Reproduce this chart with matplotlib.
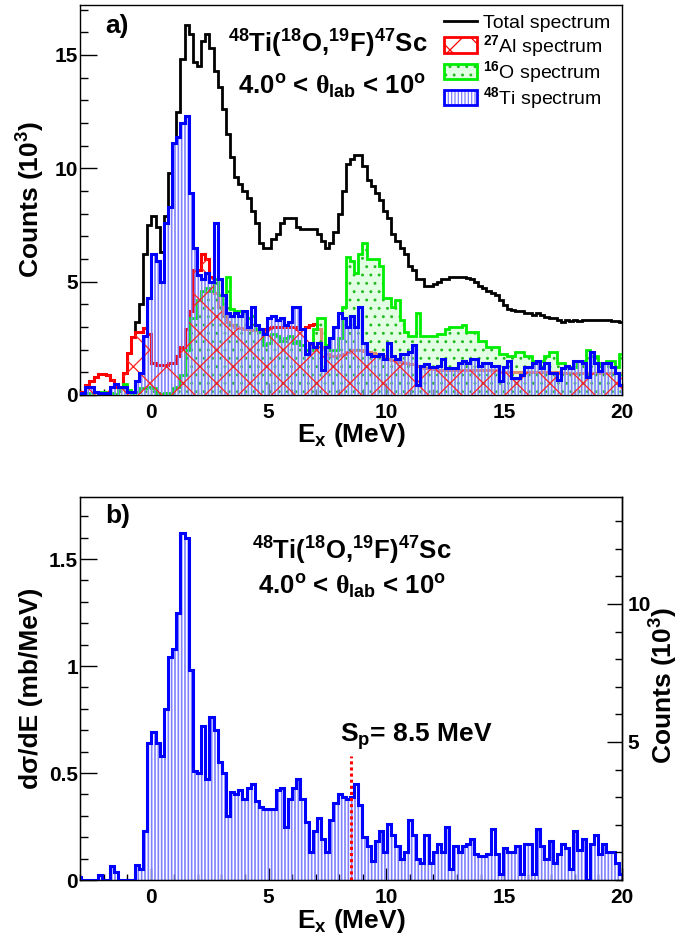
import numpy as np
import matplotlib
matplotlib.use("Agg")
import matplotlib.pyplot as plt
from matplotlib.patches import Patch
from matplotlib.lines import Line2D
from matplotlib.legend_handler import HandlerTuple
from matplotlib.ticker import MultipleLocator, FixedLocator, FuncFormatter

plt.rcParams['font.family'] = ['Liberation Sans', 'DejaVu Sans']
plt.rcParams['font.weight'] = 'bold'
plt.rcParams['mathtext.fontset'] = 'custom'
plt.rcParams['mathtext.rm'] = 'Liberation Serif'
plt.rcParams['mathtext.bf'] = 'Liberation Sans:bold'
plt.rcParams['mathtext.sf'] = 'Liberation Sans'
plt.rcParams['mathtext.it'] = 'Liberation Sans:italic'
plt.rcParams['mathtext.default'] = 'bf'
plt.rcParams['hatch.linewidth'] = 0.9

# binning of the spectra (MeV)
bin_lo = -3.1255
bin_width = 0.1755
n_bins = 132
edges = bin_lo + bin_width * np.arange(n_bins + 1)

# a) counts (10^3) per bin
total_counts = [0.15,
    0.15, 0.44, 0.6, 0.8, 0.92, 0.92, 0.9, 0.66, 0.37, 0.37,
    0.95, 1.84, 2.57, 3.2, 4.0, 6.2, 7.5, 7.9, 7.4, 6.3,
    7.9, 9.8, 11.1, 12.5, 14.8, 16.3, 15.9, 14.7, 14.5, 15.6,
    15.9, 15.3, 14.3, 13.6, 12.6, 11.5, 10.5, 9.6, 9.3, 9.0,
    8.7, 8.1, 7.6, 6.7, 6.5, 6.5, 6.9, 7.1, 7.6, 7.8,
    7.8, 7.8, 7.4, 7.3, 7.3, 7.3, 7.3, 7.1, 6.8, 6.5,
    6.7, 7.2, 8.0, 9.0, 10.2, 10.4, 10.6, 10.6, 10.1, 9.5,
    9.2, 8.9, 8.6, 8.1, 7.8, 7.1, 6.8, 6.5, 6.2, 5.7,
    5.5, 5.1, 5.1, 4.8, 4.8, 4.9, 5.0, 5.1, 5.1, 5.2,
    5.2, 5.2, 5.2, 5.15, 5.1, 5.0, 4.8, 4.7, 4.6, 4.5,
    4.4, 4.2, 3.95, 3.8, 3.75, 3.7, 3.7, 3.6, 3.6, 3.55,
    3.6, 3.55, 3.45, 3.4, 3.4, 3.3, 3.2, 3.3, 3.25, 3.3,
    3.25, 3.3, 3.3, 3.3, 3.3, 3.3, 3.3, 3.3, 3.28, 3.25,
    3.2]
al_counts = [0.15,
    0.15, 0.44, 0.6, 0.8, 0.92, 0.92, 0.9, 0.66, 0.37, 0.37,
    0.95, 1.84, 2.57, 2.8, 2.8, 2.94, 2.7, 1.4, 1.32, 1.32,
    1.32, 1.4, 1.4, 1.7, 2.1, 2.9, 3.7, 5.5, 5.5, 6.2,
    6.0, 5.2, 4.5, 3.9, 3.5, 3.2, 3.1, 3.0, 2.95, 2.9,
    2.9, 2.85, 2.85, 2.9, 2.9, 2.95, 3.0, 3.0, 3.0, 3.0,
    3.0, 3.0, 2.9, 2.9, 3.0, 3.1, 3.15, 2.9, 2.1, 1.8,
    1.7, 1.7, 1.75, 1.8, 1.9, 2.0, 2.0, 2.0, 1.95, 1.9,
    1.85, 1.8, 1.75, 1.7, 1.6, 1.55, 1.5, 1.45, 1.4, 1.35,
    1.35, 1.3, 1.25, 1.2, 1.2, 1.15, 1.1, 1.1, 1.1, 1.1,
    1.1, 1.1, 1.1, 1.1, 1.1, 1.1, 1.1, 1.1, 1.1, 1.1,
    1.1, 1.0, 1.0, 1.0, 1.0, 1.0, 1.0, 1.0, 1.0, 1.0,
    1.0, 1.0, 1.0, 1.0, 1.0, 1.0, 0.95, 0.95, 0.95, 0.95,
    0.95, 0.95, 0.95, 0.95, 0.95, 0.95, 0.95, 0.95, 0.95, 0.95,
    0.95]
o_counts = [0.05,
    0.05, 0.1, 0.05, 0.15, 0.15, 0.15, 0.1, 0.1, 0.05, 0.3,
    0.5, 0.2, 0.1, 0.15, 0.3, 0.3, 0.35, 0.3, 0.1, 0.05,
    0.1, 0.1, 0.3, 0.35, 0.9, 2.0, 3.4, 3.4, 4.2, 4.6,
    4.7, 4.6, 5.1, 4.4, 4.0, 5.2, 3.8, 3.7, 3.7, 3.6,
    3.4, 3.5, 2.9, 2.8, 2.2, 2.3, 2.7, 2.6, 2.4, 2.5,
    2.6, 2.3, 2.4, 2.2, 2.0, 2.0, 2.9, 3.4, 3.4, 2.2,
    2.0, 2.0, 2.5, 3.9, 6.1, 5.9, 5.4, 6.2, 6.7, 6.0,
    6.0, 6.0, 5.7, 4.3, 4.3, 3.9, 4.2, 3.3, 2.8, 2.6,
    2.6, 3.6, 2.6, 2.6, 2.6, 2.6, 2.7, 2.7, 2.9, 3.0,
    3.0, 3.0, 3.1, 2.8, 2.8, 2.8, 2.4, 2.4, 2.1, 2.1,
    2.1, 1.8, 1.8, 1.7, 1.7, 1.9, 1.9, 1.7, 1.7, 1.5,
    1.5, 1.5, 1.7, 1.9, 1.9, 1.4, 1.4, 1.25, 1.25, 1.25,
    1.5, 1.5, 2.0, 1.7, 1.7, 1.4, 1.4, 1.5, 1.5, 1.25,
    1.8]
ti_counts = [0.07,
    0.07, 0.37, 0.37, 0.15, 0.07, 0.07, 0.07, 0.37, 0.5, 0.37,
    0.37, 0.15, 0.15, 0.6, 0.95, 2.6, 4.3, 6.2, 5.9, 5.0,
    7.6, 8.3, 11.1, 11.4, 12.0, 12.3, 8.9, 6.5, 5.3, 5.1,
    5.4, 5.0, 7.6, 5.1, 4.4, 3.6, 3.5, 3.6, 3.5, 3.7,
    3.0, 3.9, 3.1, 2.9, 2.7, 3.4, 3.5, 3.3, 3.4, 3.1,
    3.2, 3.9, 3.9, 2.9, 1.8, 2.3, 2.1, 2.3, 1.1, 2.1,
    2.5, 3.0, 3.6, 3.4, 3.0, 3.5, 3.0, 3.9, 2.3, 1.8,
    1.7, 1.7, 1.8, 1.6, 2.3, 1.7, 1.6, 1.8, 1.8, 1.9,
    2.2, 0.45, 1.3, 1.35, 1.25, 1.25, 1.3, 1.6, 1.2, 1.2,
    1.2, 1.4, 1.5, 1.4, 1.6, 1.6, 1.3, 1.4, 1.4, 1.3,
    1.3, 0.6, 1.25, 1.5, 0.75, 0.75, 0.9, 1.25, 1.25, 1.4,
    1.5, 1.2, 1.4, 0.95, 0.95, 0.65, 1.2, 1.3, 1.2, 1.5,
    1.5, 1.4, 0.8, 1.9, 1.4, 1.05, 1.4, 1.4, 1.25, 0.95,
    0.45]

# b) cross section (mb/MeV) per bin
xsec = [0.016,
    0.0, 0.0, 0.0, 0.0, 0.024, 0.0, 0.0, 0.064, 0.039, 0.0,
    0.0, 0.0, 0.0, 0.07, 0.05, 0.23, 0.64, 0.69, 0.64, 0.58,
    0.80, 1.04, 1.08, 1.25, 1.62, 1.60, 0.98, 0.51, 0.50, 0.72,
    0.47, 0.76, 0.70, 0.55, 0.50, 0.30, 0.41, 0.40, 0.42, 0.38,
    0.43, 0.45, 0.37, 0.34, 0.33, 0.33, 0.33, 0.42, 0.43, 0.25,
    0.38, 0.43, 0.47, 0.38, 0.27, 0.13, 0.23, 0.29, 0.19, 0.13,
    0.28, 0.36, 0.40, 0.39, 0.38, 0.39, 0.45, 0.35, 0.20, 0.16,
    0.09, 0.18, 0.23, 0.13, 0.26, 0.21, 0.16, 0.10, 0.13, 0.28,
    0.21, 0.10, 0.08, 0.21, 0.08, 0.13, 0.17, 0.13, 0.25, 0.05,
    0.16, 0.13, 0.16, 0.17, 0.19, 0.12, 0.11, 0.11, 0.12, 0.24,
    0.12, 0.03, 0.15, 0.13, 0.13, 0.16, 0.03, 0.17, 0.17, 0.03,
    0.24, 0.16, 0.10, 0.18, 0.08, 0.12, 0.17, 0.15, 0.05, 0.23,
    0.14, 0.19, 0.0, 0.17, 0.21, 0.12, 0.17, 0.13, 0.13, 0.08,
    0.03]
sp_energy = 8.5
sp_top = 0.58
counts_per_xsec = 7.75   # right axis: counts (10^3) per mb/MeV

W, H = 696, 939
def fx(px):
    return px / W
def fy(py):
    return 1 - py / H

fig = plt.figure(figsize=(W / 100, H / 100), dpi=100)
ax_a = fig.add_axes([fx(80), fy(395), 542 / W, 390 / H])
ax_b = fig.add_axes([fx(80), fy(880), 542 / W, 383 / H])

stripe = '#7f7fff'
pale_green = (0.8, 1.0, 0.8, 0.55)

def stripes(ax, vals, z):
    # vertical-line fill of the Ti histogram (ROOT style)
    with plt.rc_context({'hatch.linewidth': 1.2}):
        ax.stairs(vals, edges, fill=True, facecolor='none', edgecolor=stripe,
                  hatch='|||||', lw=0, zorder=z)

# --- a) ---
ax_a.stairs(total_counts, edges, baseline=None, color='black', lw=2.0, zorder=2)
ax_a.stairs(al_counts, edges, baseline=None, color='red', lw=2.2, zorder=3.1)
ax_a.stairs(o_counts, edges, fill=True, facecolor=pale_green, edgecolor='#22bb22',
            hatch='..', lw=0, zorder=4)
ax_a.stairs(o_counts, edges, baseline=None, color='#00ee00', lw=2.0, zorder=4.1)
stripes(ax_a, ti_counts, 5)
ax_a.stairs(al_counts, edges, fill=True, facecolor='none', edgecolor='#ff2020',
            hatch='x', lw=0, zorder=5.05)
ax_a.stairs(ti_counts, edges, baseline=None, color='blue', lw=2.2, zorder=5.1)

ax_a.set_xlim(-3, 20)
ax_a.set_ylim(0, 17.2)

# --- b) ---
stripes(ax_b, xsec, 2)
ax_b.stairs(xsec, edges, baseline=None, color='blue', lw=2.2, zorder=3)
ax_b.vlines(sp_energy, 0, sp_top, colors='red', linestyles=(0, (1, 1)), lw=2.2, zorder=4)
ax_b.set_xlim(-3, 20)
ax_b.set_ylim(0, 1.79)

ax_r = ax_b.twinx()
ax_r.set_ylim(0, 1.79 * counts_per_xsec)
ax_r.yaxis.set_major_locator(FixedLocator([5, 10]))
ax_r.yaxis.set_minor_locator(MultipleLocator(1))
ax_r.tick_params(axis='y', which='both', direction='in', labelsize=15, pad=4)
ax_r.tick_params(axis='y', which='major', length=11, width=1)
ax_r.tick_params(axis='y', which='minor', length=5, width=1)

for ax in (ax_a, ax_b):
    ax.xaxis.set_major_locator(MultipleLocator(5))
    ax.xaxis.set_minor_locator(MultipleLocator(1))
    ax.tick_params(which='both', direction='in', top=False, right=False, labelsize=15)
    ax.tick_params(axis='x', which='major', length=9, width=1, pad=5.5)
    ax.tick_params(axis='x', which='minor', length=4.5, width=1)
    ax.tick_params(axis='y', which='major', length=12, width=1, pad=1.5)
    ax.tick_params(axis='y', which='minor', length=6, width=1)
    for s in ax.spines.values():
        s.set_linewidth(1.0)
ax_r.spines['right'].set_linewidth(1.0)

ax_a.yaxis.set_major_locator(MultipleLocator(5))
ax_a.yaxis.set_minor_locator(MultipleLocator(1))
ax_b.yaxis.set_major_locator(MultipleLocator(0.5))
ax_b.yaxis.set_minor_locator(MultipleLocator(0.1))
ax_b.yaxis.set_major_formatter(FuncFormatter(lambda v, p: f'{v:g}'))

# axis titles
fig.text(fx(31), fy(200), r'Counts (10$^{3}$)', rotation=90, ha='center', va='center', fontsize=19)
fig.text(fx(351), fy(435), r'E$_{x}$ (MeV)', ha='center', va='center', fontsize=19)
fig.text(fx(31), fy(688), 'dσ/dE (mb/MeV)', rotation=90, ha='center', va='center', fontsize=19)
fig.text(fx(351), fy(921), r'E$_{x}$ (MeV)', ha='center', va='center', fontsize=19)
fig.text(fx(664), fy(686), r'Counts (10$^{3}$)', rotation=90, ha='center', va='center', fontsize=19)

# annotations
reaction = r'$^{48}$Ti($^{18}$O,$^{19}$F)$^{47}$Sc'
angles = r'4.0$^{o}$ < $\mathrm{\theta}_{lab}$ < 10$^{o}$'
fig.text(fx(105), fy(33), 'a)', fontsize=19)
fig.text(fx(228), fy(53), reaction, fontsize=18.5)
fig.text(fx(238), fy(95), angles, fontsize=18.5)
fig.text(fx(105), fy(523), 'b)', fontsize=19)
fig.text(fx(252), fy(560), reaction, fontsize=18.5)
fig.text(fx(258), fy(595), angles, fontsize=18.5)
fig.text(fx(340), fy(742), r'S$_{p}$= 8.5 MeV', fontsize=19)

# legend
with plt.rc_context({'hatch.linewidth': 1.2}):
    h_ti_fill = Patch(facecolor='white', edgecolor=stripe, hatch='|||||', lw=0)
h_total = Line2D([], [], color='black', lw=2.0)
h_al = Patch(facecolor='white', edgecolor='red', hatch='x', lw=2.0)
h_o = (Patch(facecolor=pale_green, edgecolor='#22bb22', hatch='..', lw=0),
       Patch(facecolor='none', edgecolor='#00ee00', lw=2.0))
h_ti = (h_ti_fill, Patch(facecolor='none', edgecolor='blue', lw=2.0))
ax_a.legend([h_total, h_al, h_o, h_ti],
            ['Total spectrum', r'$^{\mathsf{27}}$Al spectrum',
             r'$^{\mathsf{16}}$O spectrum', r'$^{\mathsf{48}}$Ti spectrum'],
            handler_map={tuple: HandlerTuple(ndivide=1, pad=0)},
            loc='upper left', bbox_to_anchor=(fx(444), fy(14)), bbox_transform=fig.transFigure,
            frameon=False, borderpad=0, borderaxespad=0, handlelength=1.7, handleheight=0.85,
            handletextpad=0.3, labelspacing=0.02,
            prop={'family': 'Liberation Sans', 'size': 14, 'weight': 'normal'})

fig.savefig('out.png', dpi=100)
